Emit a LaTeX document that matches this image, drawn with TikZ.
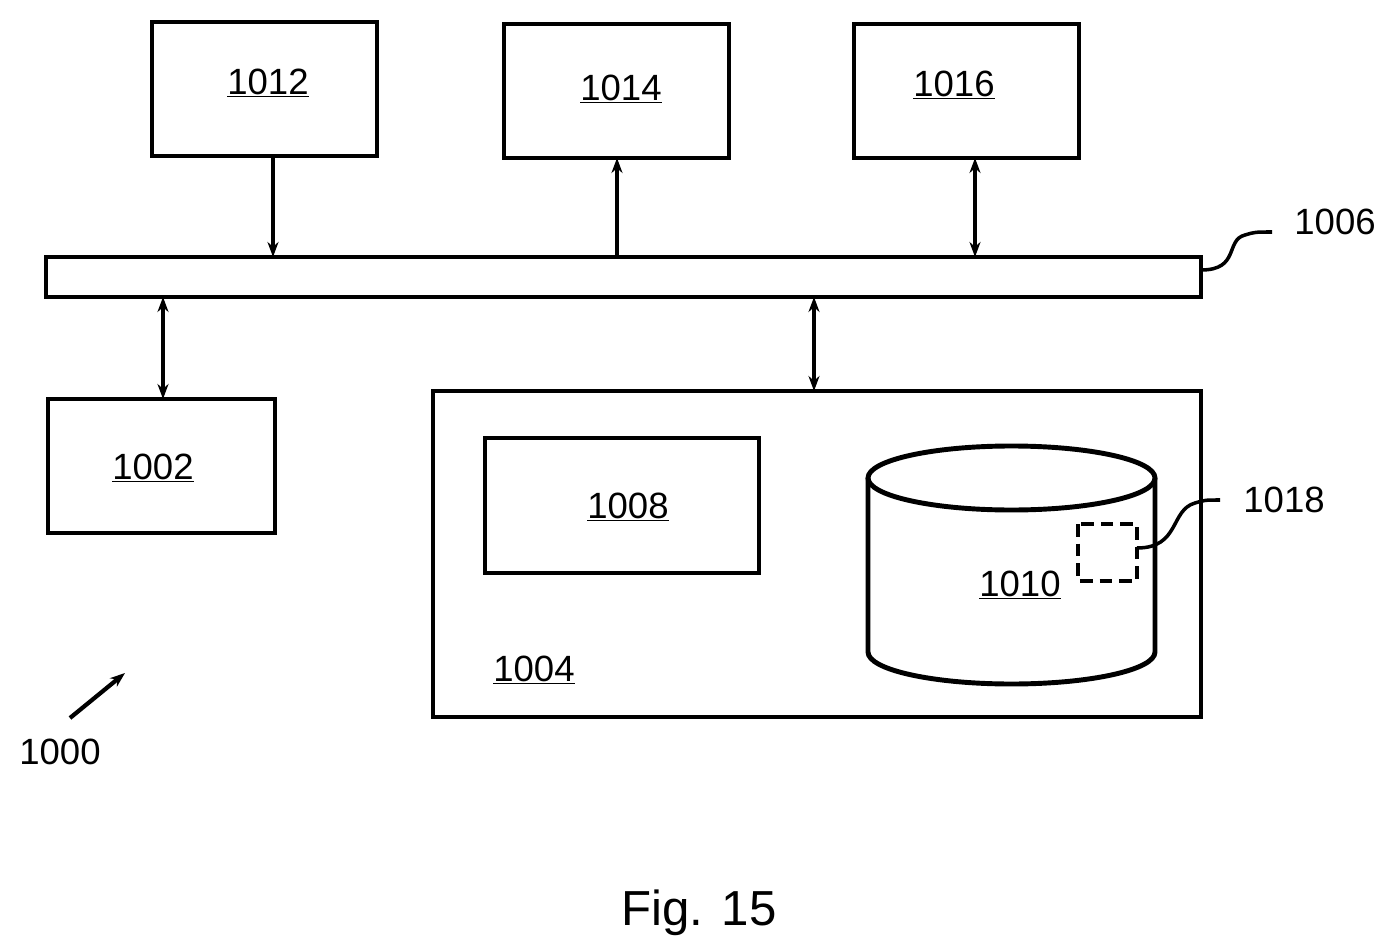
\documentclass[tikz,border=0pt]{standalone}
\usepackage{fontspec}
\setmainfont{Liberation Sans}
\usetikzlibrary{arrows.meta}
\begin{document}
\begin{tikzpicture}[x=0.05cm,y=-0.05cm,
  lbl/.style={font=\fontsize{52}{60}\selectfont,inner sep=0pt},
  ar/.style={-{Stealth[length=0.75cm,width=0.55cm]}},
  dar/.style={{Stealth[length=0.75cm,width=0.55cm]}-{Stealth[length=0.75cm,width=0.55cm]}}]
\useasboundingbox (0,0) rectangle (1397,952);
\tikzset{every path/.style={line width=7pt}}
\draw (152,22) rectangle (377,156);
\draw (504,24) rectangle (729,158);
\draw (854,24) rectangle (1079,158);
\draw (46,257) rectangle (1201,297);
\draw (48,399) rectangle (275,533);
\draw (433,391) rectangle (1201,717);
\draw (485,438) rectangle (759,573);
% cylinder
\draw (868,478) -- (868,652) arc[start angle=180,end angle=0,x radius=143.5,y radius=32] -- (1155,478);
\draw (1011.5,478) ellipse[x radius=143.5,y radius=32];
\draw[dashed,dash pattern=on 18pt off 10pt] (1078,524) rectangle (1137,581);
% coordinates
\coordinate (a1) at (273,156); \coordinate (a2) at (273,257);
\coordinate (b1) at (617,257); \coordinate (b2) at (617,158);
\coordinate (c1) at (975,158); \coordinate (c2) at (975,257);
\coordinate (d1) at (163,297); \coordinate (d2) at (163,399);
\coordinate (e1) at (814,297); \coordinate (e2) at (814,391);
\draw[ar,line width=5pt] (a1) -- (a2);
\draw[ar,line width=5pt] (b1) -- (b2);
\draw[dar,line width=5pt] (c1) -- (c2);
\draw[dar,line width=5pt] (d1) -- (d2);
\draw[dar,line width=5pt] (e1) -- (e2);
% squiggles
\coordinate (s1) at (1201,270); \coordinate (s2) at (1272,232);
\draw[line width=5pt] (s1) .. controls (1240,270) and (1225,240) .. (1245,235) .. controls (1255,232) .. (s2);
\coordinate (t1) at (1137,548); \coordinate (t2) at (1220,500);
\draw[line width=5pt] (t1) .. controls (1180,548) and (1170,510) .. (1195,503) .. controls (1205,500) .. (t2);
\coordinate (u1) at (70,718); \coordinate (u2) at (125,673);
\draw[ar,line width=6pt] (u1) -- (u2);
% labels
\node[lbl] (l1012) at (268,83) {\underline{1012}};
\node[lbl] (l1014) at (621,89) {\underline{1014}};
\node[lbl] (l1016) at (954,85) {\underline{1016}};
\node[lbl] (l1002) at (153,468) {\underline{1002}};
\node[lbl] (l1008) at (628,507) {\underline{1008}};
\node[lbl] (l1010) at (1020,585) {\underline{1010}};
\node[lbl] (l1004) at (534,670) {\underline{1004}};
\node[lbl] (l1006) at (1335,222) {1006};
\node[lbl] (l1018) at (1284,500) {1018};
\node[lbl] (l1000) at (60,752) {1000};
\node[lbl,font=\fontsize{70}{80}\selectfont] (fig) at (699,913) {Fig. 15};
\end{tikzpicture}
\end{document}
